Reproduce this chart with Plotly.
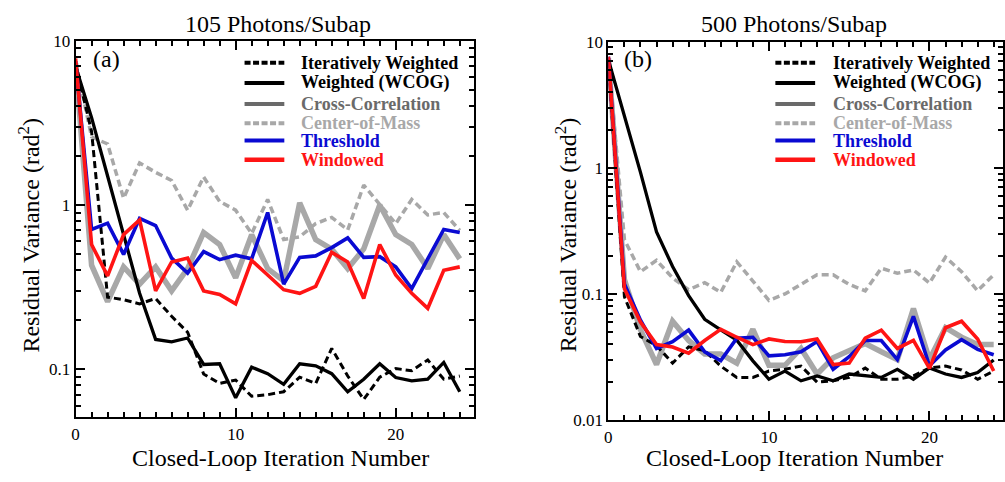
import plotly.graph_objects as go

iters = list(range(25))

# ---- Panel (a): 105 Photons/Subap ----
a_iter_weighted = [7.2, 2.8, 0.275, 0.265, 0.25, 0.27, 0.21, 0.168, 0.0935, 0.082, 0.086, 0.0685,
                   0.070, 0.073, 0.0895, 0.082, 0.134, 0.091, 0.0655, 0.0895, 0.101, 0.098, 0.114, 0.087, 0.091]
a_wcog = [7.0, 3.4, 1.5, 0.66, 0.29, 0.152, 0.147, 0.155, 0.107, 0.108, 0.067, 0.103,
          0.094, 0.081, 0.108, 0.105, 0.094, 0.073, 0.087, 0.108, 0.089, 0.085, 0.087, 0.11, 0.073]
a_cross_corr = [7.3, 0.43, 0.258, 0.42, 0.33, 0.42, 0.30, 0.41, 0.68, 0.575, 0.36, 0.66,
                0.41, 0.345, 1.03, 0.616, 0.538, 0.41, 0.54, 1.0, 0.66, 0.575, 0.41, 0.66, 0.47]
a_center_mass = [7.5, 2.6, 2.35, 1.1, 1.8, 1.58, 1.41, 0.93, 1.48, 1.05, 0.93, 0.67,
                 1.08, 0.616, 0.64, 0.77, 0.84, 0.705, 1.32, 1.0, 0.77, 1.08, 0.87, 0.9, 0.7]
a_threshold = [7.5, 0.71, 0.775, 0.5, 0.83, 0.75, 0.475, 0.385, 0.52, 0.465, 0.495, 0.47,
               0.9, 0.33, 0.48, 0.49, 0.55, 0.63, 0.48, 0.485, 0.42, 0.31, 0.47, 0.71, 0.68]
a_windowed = [7.8, 0.575, 0.37, 0.66, 0.81, 0.30, 0.45, 0.475, 0.30, 0.285, 0.25, 0.46,
              0.375, 0.305, 0.29, 0.32, 0.515, 0.45, 0.27, 0.575, 0.375, 0.29, 0.235, 0.40, 0.42]

# ---- Panel (b): 500 Photons/Subap ----
b_iter_weighted = [7.0, 0.095, 0.046, 0.039, 0.0283, 0.0381, 0.0355, 0.0268, 0.0218, 0.0218, 0.0245, 0.0253,
                   0.0268, 0.020, 0.0205, 0.0218, 0.0259, 0.0211, 0.0211, 0.0224, 0.0259, 0.0268, 0.025, 0.0211, 0.0245]
b_wcog = [7.2, 2.6, 0.92, 0.31, 0.165, 0.097, 0.063, 0.052, 0.043, 0.0295, 0.0211, 0.0245,
          0.0205, 0.0224, 0.0205, 0.0232, 0.0224, 0.0218, 0.0253, 0.0211, 0.0259, 0.0232, 0.0218, 0.0238, 0.030]
b_cross_corr = [7.4, 0.13, 0.052, 0.0276, 0.0608, 0.0428, 0.0334, 0.0334, 0.0283, 0.0525, 0.0272, 0.0272,
                0.037, 0.0232, 0.0312, 0.036, 0.0405, 0.0348, 0.0302, 0.0767, 0.0302, 0.054, 0.0454, 0.0397, 0.0397]
b_center_mass = [7.4, 0.27, 0.15, 0.185, 0.134, 0.108, 0.123, 0.103, 0.18, 0.126, 0.089, 0.10,
                 0.119, 0.142, 0.142, 0.119, 0.106, 0.16, 0.146, 0.155, 0.122, 0.196, 0.15, 0.106, 0.142]
b_threshold = [7.6, 0.12, 0.062, 0.037, 0.0418, 0.0517, 0.0348, 0.0296, 0.0446, 0.0454, 0.0323, 0.033,
               0.0348, 0.042, 0.0253, 0.0318, 0.0428, 0.0428, 0.0302, 0.0664, 0.027, 0.036, 0.0434, 0.0364, 0.033]
b_windowed = [7.6, 0.11, 0.06, 0.0397, 0.038, 0.0339, 0.0428, 0.0525, 0.0454, 0.0397, 0.044, 0.042,
              0.0418, 0.044, 0.0276, 0.0283, 0.0446, 0.0517, 0.037, 0.0428, 0.0257, 0.054, 0.0608, 0.044, 0.0245]

legend_names = ["Iteratively Weighted", "Weighted (WCOG)", "Cross-Correlation",
                "Center-of-Mass", "Threshold", "Windowed"]
panel_titles = ["105 Photons/Subap", "500 Photons/Subap"]
panel_labels = ["(a)", "(b)"]
x_title = "Closed-Loop Iteration Number"
y_title = "Residual Variance (rad<sup>2</sup>)"

FONT = "Liberation Serif"
BLUE = "#0a0ad2"
RED = "#ff1414"
LGRAY = "#a8a8a8"
DGRAY = "#6a6a6a"

# plot style per series: (color, width, dash)
styles = {
    "Center-of-Mass": (LGRAY, 3.5, "7px,4px"),
    "Cross-Correlation": (LGRAY, 5.5, "solid"),
    "Iteratively Weighted": ("black", 3, "7px,4px"),
    "Weighted (WCOG)": ("black", 3.3, "solid"),
    "Threshold": (BLUE, 3.6, "solid"),
    "Windowed": (RED, 3.6, "solid"),
}
# legend sample style: (line color, width, dash, text color)
legend_styles = {
    "Iteratively Weighted": ("black", 4, "6px,2.5px", "black"),
    "Weighted (WCOG)": ("black", 4, "solid", "black"),
    "Cross-Correlation": (DGRAY, 4, "solid", DGRAY),
    "Center-of-Mass": (LGRAY, 4, "6px,2.5px", LGRAY),
    "Threshold": (BLUE, 4, "solid", BLUE),
    "Windowed": (RED, 4.5, "solid", RED),
}

panels = [
    {"Center-of-Mass": a_center_mass, "Cross-Correlation": a_cross_corr,
     "Iteratively Weighted": a_iter_weighted, "Weighted (WCOG)": a_wcog,
     "Threshold": a_threshold, "Windowed": a_windowed},
    {"Center-of-Mass": b_center_mass, "Cross-Correlation": b_cross_corr,
     "Iteratively Weighted": b_iter_weighted, "Weighted (WCOG)": b_wcog,
     "Threshold": b_threshold, "Windowed": b_windowed},
]

fig = go.Figure()
for p, data in enumerate(panels):
    xa = "x" if p == 0 else "x2"
    ya = "y" if p == 0 else "y2"
    for name in ["Center-of-Mass", "Cross-Correlation", "Iteratively Weighted",
                 "Weighted (WCOG)", "Threshold", "Windowed"]:
        c, w, d = styles[name]
        fig.add_trace(go.Scatter(x=iters, y=data[name], mode="lines", xaxis=xa, yaxis=ya,
                                 line=dict(color=c, width=w, dash=d), showlegend=False,
                                 name=name, hoverinfo="skip"))

axis_common = dict(showline=True, linecolor="black", linewidth=2, mirror="ticks",
                   ticks="inside", tickcolor="black", showgrid=False, zeroline=False,
                   tickfont=dict(family=FONT, size=17, color="black"))
minor_x = dict(dtick=1, ticks="inside", ticklen=5, tickwidth=1.5, tickcolor="black")
minor_y = dict(dtick="D1", ticks="inside", ticklen=5, tickwidth=1.5, tickcolor="black")

W, H = 1005, 482
fig.update_layout(
    width=W, height=H, margin=dict(l=0, r=0, t=0, b=0),
    paper_bgcolor="white", plot_bgcolor="white", showlegend=False,
    font=dict(family=FONT, color="black"),
    xaxis=dict(domain=[72 / W, 473 / W], range=[0, 24.9], dtick=10, tick0=0, ticklen=9, tickwidth=2,
               minor=minor_x, anchor="y", **axis_common),
    yaxis=dict(domain=[1 - 425 / H, 1 - 33 / H], type="log", range=[-1.292, 1], dtick=1,
               ticklen=9, tickwidth=2, minor=minor_y, anchor="x", **axis_common),
    xaxis2=dict(domain=[608 / W, 1.0], range=[0, 24.58], dtick=10, tick0=0, ticklen=9, tickwidth=2,
                minor=minor_x, anchor="y2", **axis_common),
    yaxis2=dict(domain=[1 - 428 / H, 1 - 34 / H], type="log", range=[-2, 1], dtick=1,
                ticklen=9, tickwidth=2, minor=minor_y, anchor="x2", **axis_common),
)

# manual legends (paper coordinates)
legend_rows = [56, 77, 99, 119, 137, 157]
legend_line_x = [(242, 282), (776, 816)]
legend_text_x = [297, 832]
for p in range(2):
    for r, name in enumerate(legend_names):
        c, w, d, tc = legend_styles[name]
        yy = 1 - legend_rows[r] / H
        fig.add_shape(type="line", xref="paper", yref="paper",
                      x0=legend_line_x[p][0] / W, x1=legend_line_x[p][1] / W, y0=yy, y1=yy,
                      line=dict(color=c, width=w, dash=d))
        fig.add_annotation(text=f"<b>{name}</b>", x=legend_text_x[p] / W, y=yy, xref="paper", yref="paper",
                           showarrow=False, font=dict(family=FONT, size=18, color=tc),
                           xanchor="left", yanchor="middle")

# titles, axis titles and panel labels
for p in range(2):
    fig.add_annotation(text=panel_titles[p], x=[276, 795][p] / W, y=1 - 16 / H, xref="paper", yref="paper",
                       showarrow=False, font=dict(family=FONT, size=24), xanchor="center", yanchor="middle")
    fig.add_annotation(text=x_title, x=[278, 795][p] / W, y=1 - 467 / H, xref="paper", yref="paper",
                       showarrow=False, font=dict(family=FONT, size=24), xanchor="center", yanchor="middle")
    fig.add_annotation(text=y_title, x=[25, 565][p] / W, y=1 - 235 / H, xref="paper", yref="paper",
                       showarrow=False, textangle=-90, font=dict(family=FONT, size=24),
                       xanchor="center", yanchor="middle")
    fig.add_annotation(text=panel_labels[p], x=[88, 622][p] / W, y=1 - 52 / H, xref="paper", yref="paper",
                       showarrow=False, font=dict(family=FONT, size=24), xanchor="left", yanchor="middle")

fig.write_html("out.html")
